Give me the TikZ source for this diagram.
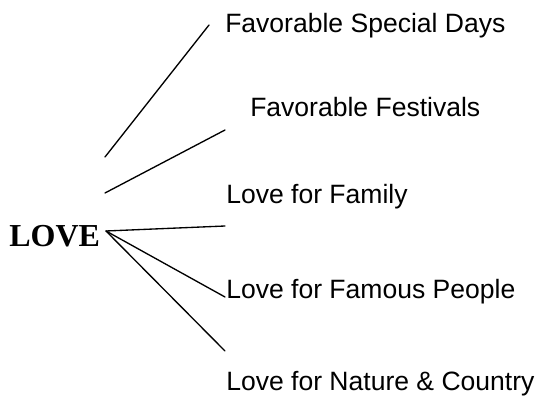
\documentclass[tikz,border=0pt]{standalone}
\usepackage{fontspec}
\setmainfont{Liberation Serif}
\setsansfont{Liberation Sans}
\begin{document}
\begin{tikzpicture}[x=0.75pt,y=-0.75pt,
  lbl/.style={anchor=base west,inner sep=0pt,font=\sffamily\fontsize{19.9}{24}\selectfont},
  hub/.style={anchor=base west,inner sep=0pt,font=\rmfamily\bfseries\fontsize{24}{28}\selectfont},
  conn/.style={line width=1pt,line cap=round}]
\useasboundingbox[fill=white] (0,0) rectangle (537,396);
\node[hub] (love) at (9,247) {LOVE};
\node[lbl] (days) at (225,32) {Favorable Special Days};
\node[lbl] (fest) at (250,117) {Favorable Festivals};
\node[lbl] (fam) at (226,203) {Love for Family};
\node[lbl] (peop) at (226,298) {Love for Famous People};
\node[lbl] (nat) at (226,390) {Love for Nature \& Country};
\coordinate (h) at (106,231);
\coordinate (s1) at (105,157);
\coordinate (e1) at (209,25);
\coordinate (s2) at (105,193);
\coordinate (e2) at (225,130);
\coordinate (e3) at (225,226);
\coordinate (e4) at (225,297);
\coordinate (e5) at (225,351);
\draw[conn] (s1) -- (e1);
\draw[conn] (s2) -- (e2);
\draw[conn] (h) -- (e3);
\draw[conn] (h) -- (e4);
\draw[conn] (h) -- (e5);
\end{tikzpicture}
\end{document}
